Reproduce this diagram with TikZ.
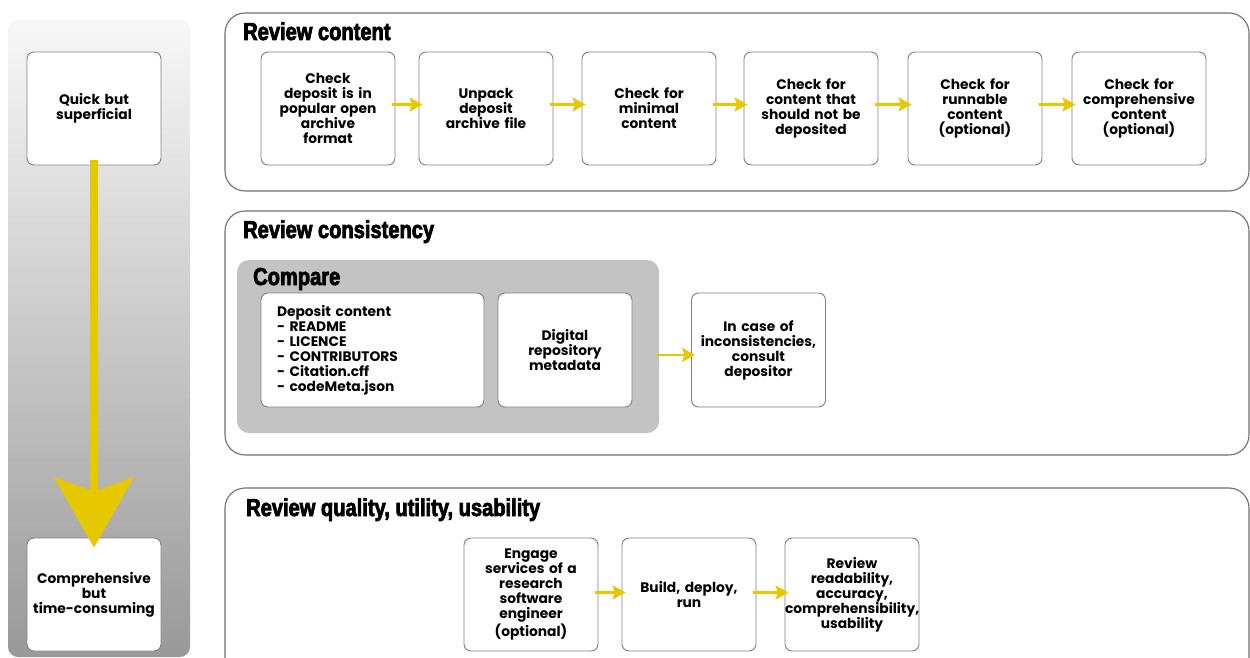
\documentclass[tikz,border=0pt]{standalone}
\usepackage{fontspec}
\setmainfont{Poppins}
\newfontfamily\headfont{Liberation Sans}[FakeStretch=0.82,FakeBold=3]
\usetikzlibrary{arrows.meta}
\definecolor{flowyellow}{RGB}{230,200,0}
\definecolor{framegray}{RGB}{112,112,112}
\definecolor{boxgray}{RGB}{128,128,128}
\definecolor{comparegray}{RGB}{195,195,195}
\tikzset{x=1pt, y=-1pt,
    panel/.style={draw=framegray, line width=1.1pt, rounded corners=20pt, fill=white},
    stepbox/.style={draw=boxgray, line width=0.9pt, rounded corners=7pt, fill=white,
        minimum width=134pt, minimum height=113pt, text width=134pt, align=center,
        inner sep=0pt, font=\fontsize{13.8}{15}\selectfont\bfseries},
    paneltitle/.style={anchor=base west, inner sep=0pt,
        font=\headfont\fontsize{24.5}{24.5}\selectfont\bfseries},
    flow/.style={draw=flowyellow, line width=2.4pt, shorten <=-3pt, shorten >=-4pt,
        -{Stealth[length=13pt,width=14pt,inset=2.5pt]}},
    }

\begin{document}
\begin{tikzpicture}
\clip (0,0) rectangle (1250,658);
\fill[white] (0,0) rectangle (1250,658);

% effort scale
\shade[top color=white!97!black, bottom color=black!40, rounded corners=10pt]
    (8,20) rectangle (190,657);
\node[stepbox] (quick) at (94,108.5) {Quick but\\superficial};
\node[stepbox] (thorough) at (94,594.5) {Comprehensive\\but\\time-consuming};
\draw[flowyellow, line width=8pt, shorten <=-5pt, shorten >=-10pt,
    -{Stealth[length=70pt,width=79pt,inset=14pt]}] (quick.south) -- (thorough.north);

% review content
\draw[panel] (225,13) rectangle (1249,191);
\node[paneltitle] (rctitle) at (243,40) {Review content};
\node[stepbox] (rc1) at (328,108.5) {Check\\deposit is in\\popular open\\archive\\format};
\node[stepbox] (rc2) at (486,108.5) {Unpack\\deposit\\archive file};
\node[stepbox] (rc3) at (649,108.5) {Check for\\minimal\\content};
\node[stepbox] (rc4) at (811,108.5) {Check for\\content that\\should not be\\deposited};
\node[stepbox] (rc5) at (975,108.5) {Check for\\runnable\\content\\(optional)};
\node[stepbox] (rc6) at (1139,108.5) {Check for\\comprehensive\\content\\(optional)};
\foreach \a/\b in {rc1/rc2,rc2/rc3,rc3/rc4,rc4/rc5,rc5/rc6}
    \draw[flow] ([yshift=4pt]\a.east) -- ([yshift=4pt]\b.west);

% review consistency
\draw[panel] (225,211) rectangle (1249,455);
\node[paneltitle] (cstitle) at (243,238) {Review consistency};
\node[fill=comparegray, rounded corners=12pt, minimum width=422pt, minimum height=173pt,
    inner sep=0pt] (compare) at (448,346.5) {};
\node[paneltitle] (cmptitle) at (253,285) {Compare};
\node[stepbox, minimum width=223pt, text width=191pt, align=left, minimum height=114pt]
    (dep) at (372.5,350) {Deposit content\\- README\\- LICENCE\\- CONTRIBUTORS\\- Citation.cff\\- codeMeta.json};
\node[stepbox, minimum height=114pt] (meta) at (565,350) {Digital\\repository\\metadata};
\node[stepbox, minimum height=114pt] (consult) at (758.5,350) {In case of\\inconsistencies,\\consult\\depositor};
\draw[flow] ([yshift=-5pt]consult.west -| compare.east) -- ([yshift=-5pt]consult.west);

% review quality
\draw[panel] (225,488) rectangle (1249,700);
\node[paneltitle] (rqtitle) at (246,516) {Review quality, utility, usability};
\node[stepbox] (rq1) at (531,594.5) {Engage\\services of a\\research\\software\\engineer\\(optional)};
\node[stepbox] (rq2) at (689,594.5) {Build, deploy,\\run};
\node[stepbox] (rq3) at (852,594.5) {Review\\readability,\\accuracy,\\comprehensibility,\\usability};
\foreach \a/\b in {rq1/rq2,rq2/rq3}
    \draw[flow] ([yshift=2pt]\a.east) -- ([yshift=2pt]\b.west);
\end{tikzpicture}
\end{document}
